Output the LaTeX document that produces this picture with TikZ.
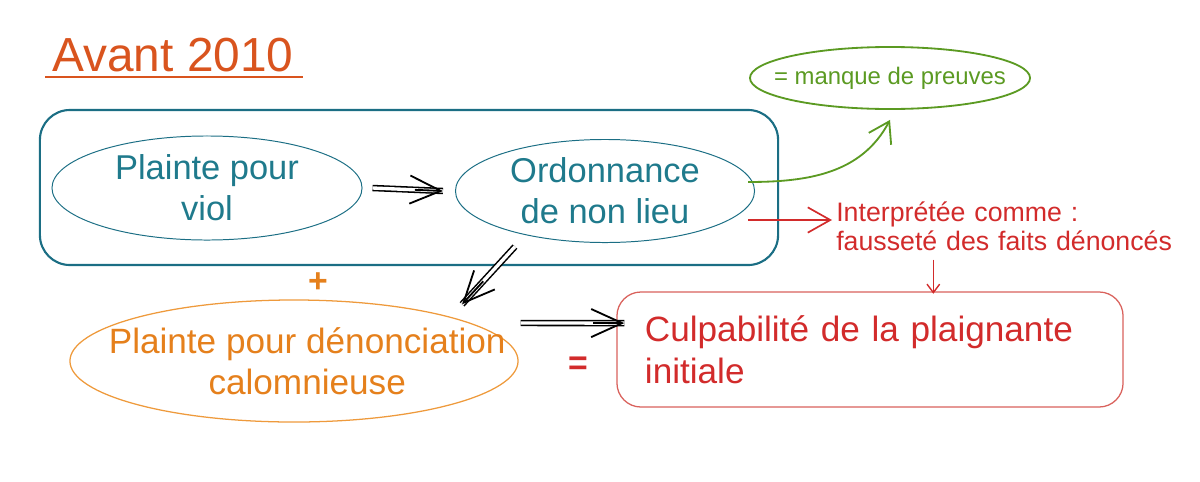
\documentclass[tikz,border=0pt]{standalone}
\usepackage{fontspec}
\setmainfont{Liberation Sans}
\usetikzlibrary{arrows.meta,shapes.geometric,calc}
\definecolor{tealc}{HTML}{1B6E84}
\definecolor{tealt}{HTML}{1F7A8C}
\definecolor{titleor}{HTML}{D9541E}
\definecolor{grn}{HTML}{5B9A22}
\definecolor{redc}{HTML}{D22B2B}
\definecolor{redbox}{HTML}{D9615C}
\definecolor{orc}{HTML}{E5801C}
\definecolor{orbox}{HTML}{EE9A3C}
\begin{document}
\begin{tikzpicture}[x=0.025cm,y=-0.025cm,
  tealell/.style={ellipse, draw=tealc, line width=0.7pt, inner sep=0pt},
  tealtxt/.style={text=tealt, font=\fontsize{24.5}{29}\selectfont, align=center, inner sep=0pt},
  dshaft/.style={draw=black, double=white, double distance=2.4pt, line width=1.1pt},
  barbtip/.style={draw=black, line width=1.3pt, -{Straight Barb[length=22pt,width=20pt]}},
  redarrow/.style={draw=redc, line width=1.2pt},
]
\useasboundingbox (0,0) rectangle (1200,481);

% title
\node[text=titleor, font=\fontsize{34}{40}\selectfont, inner sep=0pt] (title) at (173,55) {Avant 2010};
\draw[titleor, line width=1.4pt] (45,77) -- (303,77);

% group box
\node[draw=tealc, line width=1.5pt, rounded corners=0.75cm,
  minimum width=18.45cm, minimum height=3.875cm] (grp) at (409,187.5) {};

% teal ellipses
\node[tealell, minimum width=7.75cm, minimum height=2.6cm] (viol) at (207,188) {};
\node[tealtxt] (violtxt) at (viol.center) {Plainte pour\\viol};
\node[tealell, minimum width=7.475cm, minimum height=2.575cm] (onl) at (605,191) {};
\node[tealtxt] (onltxt) at (onl.center) {Ordonnance\\de non lieu};

% green ellipse
\node[ellipse, draw=grn, line width=1.3pt, minimum width=7cm, minimum height=1.55cm, inner sep=0pt] (manque) at (890,78) {};
\node[text=grn, font=\fontsize{17}{20}\selectfont, inner sep=0pt] (manquetxt) at (manque.center) {= manque de preuves};

% interpretation text
\node[anchor=west, text=redc, font=\fontsize{19}{20.5}\selectfont, align=left,
  text width=8.45cm, inner sep=0pt] (interp) at (836,226) {Interprétée comme :\\fausseté des faits dénoncés};

% culpability box
\node[draw=redbox, line width=0.9pt, rounded corners=0.6cm, text=redc,
  font=\fontsize{25}{30}\selectfont, align=left, text width=11.25cm, inner xsep=0.7cm,
  minimum width=12.65cm, minimum height=2.875cm] (culp) at (870,349.5)
  {Culpabilité de la plaignante\\initiale};

% orange ellipse
\node[ellipse, draw=orbox, line width=0.9pt, inner sep=0pt,
  minimum width=11.2cm, minimum height=3.05cm] (calo) at (294,361) {};
\node[text=orc, font=\fontsize{25}{29}\selectfont, align=center, inner sep=0pt] (calotxt) at ([xshift=0.33cm]calo.center)
  {Plainte pour dénonciation\\calomnieuse};

% plus and equal
\node[text=orc, font=\fontsize{24}{28}\bfseries\selectfont, inner sep=0pt] (plus) at (318,283) {+};
\node[text=redc, font=\fontsize{24}{28}\bfseries\selectfont, inner sep=0pt] (eq) at (578,366) {=};

% black double arrows
\draw[dshaft] ([xshift=0.25cm]viol.east) -- ([xshift=-0.3cm]onl.west);
\draw[barbtip] ($([xshift=0.25cm]viol.east)!0.6!([xshift=-0.3cm]onl.west)$) -- ([xshift=-0.3cm]onl.west);

\draw[dshaft] ([xshift=-2.25cm,yshift=-0.09cm]onl.south) -- ([xshift=4.2cm,yshift=-0.125cm]calo.north);
\draw[barbtip] ($([xshift=-2.25cm,yshift=-0.09cm]onl.south)!0.6!([xshift=4.2cm,yshift=-0.125cm]calo.north)$) -- ([xshift=4.2cm,yshift=-0.125cm]calo.north);

\draw[dshaft] ([xshift=0.05cm,yshift=0.95cm]calo.east) -- ([xshift=0.2cm,yshift=0.66cm]culp.west);
\draw[barbtip] ($([xshift=0.05cm,yshift=0.95cm]calo.east)!0.7!([xshift=0.2cm,yshift=0.66cm]culp.west)$) -- ([xshift=0.2cm,yshift=0.66cm]culp.west);

% green arrow
\draw[grn, line width=1.3pt, -{Straight Barb[length=14pt,width=18pt]}]
  ([xshift=-0.175cm,yshift=0.225cm]onl.east) to[out=0,in=-118] ([yshift=-0.25cm]manque.south);

% red arrows
\draw[redarrow, -{Straight Barb[length=16pt,width=18pt]}]
  ([xshift=-0.175cm,yshift=-0.725cm]onl.east) -- ([xshift=-0.1cm,yshift=0.15cm]interp.west);
\draw[redarrow, line width=1pt, -{Straight Barb[length=6pt,width=9pt]}]
  ([xshift=-1.8cm,yshift=-0.225cm]interp.south) -- ([xshift=-1.8cm,yshift=-0.06cm]interp.south |- culp.north);
\end{tikzpicture}
\end{document}
